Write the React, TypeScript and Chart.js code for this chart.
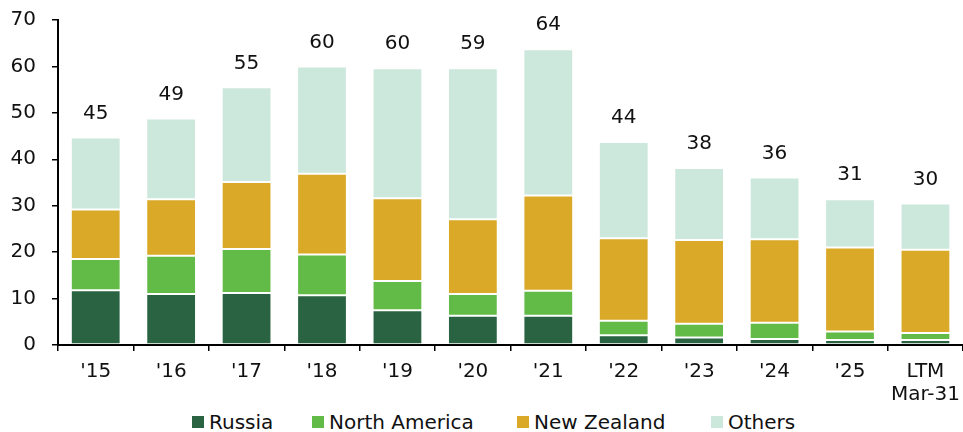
import React, { useEffect, useRef } from "react";
import { Chart, registerables } from "chart.js";

Chart.register(...registerables);

const categories: (string | string[])[] = ["'15", "'16", "'17", "'18", "'19", "'20", "'21", "'22", "'23", "'24", "'25", ["LTM", "Mar-31"]];
const russia = [11.8, 11.0, 11.2, 10.7, 7.5, 6.3, 6.3, 2.1, 1.6, 1.3, 1.1, 1.1];
const northAmerica = [6.7, 8.2, 9.5, 8.8, 6.3, 4.7, 5.4, 3.1, 3.0, 3.5, 1.8, 1.5];
const newZealand = [10.7, 12.2, 14.4, 17.4, 17.8, 16.1, 20.5, 17.8, 18.0, 18.0, 18.1, 17.9];
const others = [15.5, 17.4, 20.4, 23.1, 28.0, 32.5, 31.5, 20.7, 15.5, 13.3, 10.4, 10.0];
const totalLabels = ["45", "49", "55", "60", "60", "59", "64", "44", "38", "36", "31", "30"];
const yTicks = [0, 10, 20, 30, 40, 50, 60, 70];

const seriesNames = ["Russia", "North America", "New Zealand", "Others"];
const seriesColors = ["#296342", "#62ba47", "#daa928", "#cce7db"];
const legendX = [192, 312, 517, 711];

const FONT = "'DejaVu Sans', Verdana, sans-serif";

export default function App() {
  const ref = useRef<HTMLCanvasElement | null>(null);

  useEffect(() => {
    document.body.style.margin = "0";
    const canvas = ref.current;
    if (!canvas) return;
    const seriesData = [russia, northAmerica, newZealand, others];

    const totalsPlugin = {
      id: "totals",
      afterDatasetsDraw(chart: any) {
        const ctx = chart.ctx;
        const yScale = chart.scales.y;
        const meta = chart.getDatasetMeta(3);
        ctx.save();
        ctx.font = `20px ${FONT}`;
        ctx.fillStyle = "#111";
        ctx.textAlign = "center";
        ctx.textBaseline = "middle";
        meta.data.forEach((el: any, i: number) => {
          const total = russia[i] + northAmerica[i] + newZealand[i] + others[i];
          const y = yScale.getPixelForValue(total) - 24;
          ctx.fillText(totalLabels[i], el.x, y);
        });
        ctx.restore();
      },
    };

    const chart = new Chart(canvas, {
      type: "bar",
      data: {
        labels: categories as any,
        datasets: seriesData.map((d, i) => ({
          label: seriesNames[i],
          data: d,
          backgroundColor: seriesColors[i],
          borderColor: "rgba(255,255,255,0.35)",
          borderWidth: 1,
          borderSkipped: false,
          barPercentage: 0.66,
          categoryPercentage: 1,
        })),
      },
      options: {
        responsive: false,
        animation: false,
        layout: { padding: 0 },
        plugins: {
          legend: { display: false },
          tooltip: { enabled: false },
        },
        scales: {
          x: {
            stacked: true,
            offset: true,
            afterFit: (s: any) => {
              s.height = 60;
            },
            grid: {
              display: true,
              offset: true,
              drawOnChartArea: false,
              drawTicks: true,
              tickLength: 6,
              color: "#000",
              lineWidth: 1.5,
            },
            border: { display: true, color: "#000", width: 2 },
            ticks: {
              color: "#111",
              font: { family: FONT, size: 20, lineHeight: 1.15 },
              padding: 9,
              maxRotation: 0,
              autoSkip: false,
            },
          },
          y: {
            stacked: true,
            min: 0,
            max: 70,
            afterFit: (s: any) => {
              s.width = 58;
            },
            afterBuildTicks: (scale: any) => {
              scale.ticks = yTicks.map((v) => ({ value: v }));
            },
            grid: {
              display: true,
              drawOnChartArea: false,
              drawTicks: true,
              tickLength: 6,
              color: "#000",
              lineWidth: 1.5,
            },
            border: { display: true, color: "#000", width: 2 },
            ticks: {
              color: "#111",
              font: { family: FONT, size: 20 },
              padding: 16,
            },
          },
        },
      },
      plugins: [totalsPlugin],
    });
    return () => chart.destroy();
  }, []);

  return (
    <div style={{ position: "relative", width: 963, height: 432, background: "#fff", overflow: "hidden" }}>
      <canvas ref={ref} width={969} height={413} style={{ position: "absolute", left: 0, top: -8 }} />
      {seriesNames.map((n, i) => (
        <div
          key={n}
          style={{
            position: "absolute",
            left: legendX[i],
            top: 411,
            height: 22,
            display: "flex",
            alignItems: "center",
            fontFamily: FONT,
            fontSize: 20,
            lineHeight: "22px",
            color: "#111",
            whiteSpace: "nowrap",
          }}
        >
          <span style={{ display: "inline-block", width: 12, height: 12, background: seriesColors[i], marginRight: 5 }} />
          <span>{n}</span>
        </div>
      ))}
    </div>
  );
}
